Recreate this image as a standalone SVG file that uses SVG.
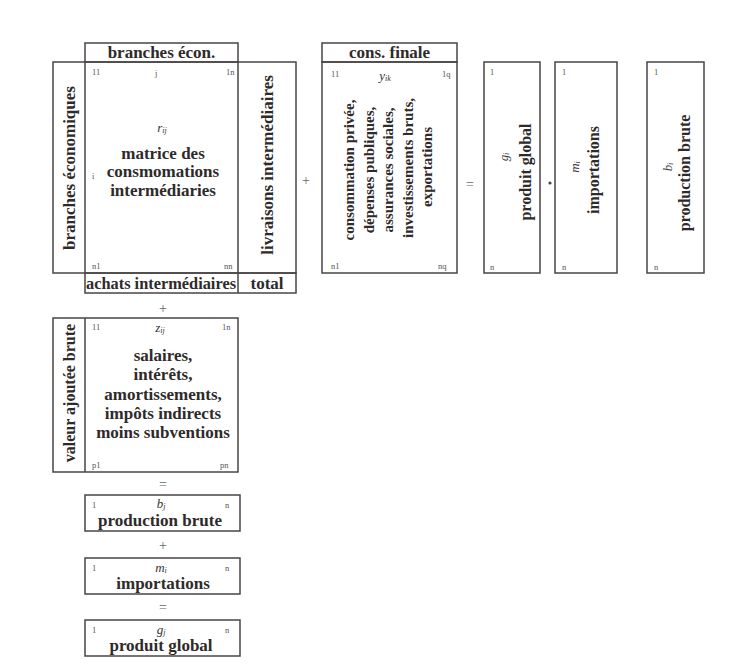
<svg xmlns="http://www.w3.org/2000/svg" width="729" height="669" viewBox="0 0 729 669">
<style>
.b{fill:none;stroke:#4a4444;stroke-width:1.5}
.t{font-family:"Liberation Serif","DejaVu Serif",serif;font-weight:bold;font-size:17px;fill:#2e2a2a;text-anchor:middle;dominant-baseline:central}
.r{font-size:16px}
.c{font-size:15px}
.s{font-family:"Liberation Serif","DejaVu Serif",serif;font-size:8.5px;fill:#555;dominant-baseline:central}
.v{font-family:"Liberation Serif","DejaVu Serif",serif;font-style:italic;font-size:13px;fill:#333;text-anchor:middle;dominant-baseline:central}
.op{font-family:"Liberation Serif","DejaVu Serif",serif;font-size:14px;fill:#666;text-anchor:middle;dominant-baseline:central}
</style>
<rect width="729" height="669" fill="#fff"/>

<g id="matrice-intermediaire">
<rect class="b" x="85" y="43" width="153" height="19"/>
<text class="t" x="161.5" y="52.5">branches écon.</text>
<rect class="b" x="53" y="62" width="243" height="211"/>
<line class="b" x1="85" y1="62" x2="85" y2="273"/>
<line class="b" x1="238" y1="62" x2="238" y2="293"/>
<rect class="b" x="85" y="273" width="211" height="20"/>
<text class="t" x="161" y="283" textLength="150" lengthAdjust="spacingAndGlyphs">achats intermédiaires</text>
<text class="t" x="267" y="283">total</text>
<text class="t" font-size="16.5" transform="translate(69,168) rotate(-90)">branches économiques</text>
<text class="t" font-size="15.5" transform="translate(267,165) rotate(-90)">livraisons intermédiaires</text>
<text class="s" x="92" y="72">11</text>
<text class="s" x="155" y="73">j</text>
<text class="s" x="226" y="72">1n</text>
<text class="s" x="92" y="176">i</text>
<text class="s" x="92" y="266">n1</text>
<text class="s" x="224" y="266">nn</text>
<text class="v" x="162" y="127">r<tspan font-size="8" dy="3">ij</tspan></text>
<text class="t" x="163" y="153">matrice des</text>
<text class="t" x="163" y="171">consmomations</text>
<text class="t" x="163" y="190">intermédiaries</text>
</g>

<g id="consommation-finale">
<rect class="b" x="322" y="43" width="135" height="19"/>
<text class="t" x="389.5" y="52.5">cons. finale</text>
<rect class="b" x="322" y="62" width="135" height="211"/>
<text class="s" x="331" y="74">11</text>
<text class="v" x="385" y="75">y<tspan font-size="8" dy="3">ik</tspan></text>
<text class="s" x="442" y="74">1q</text>
<text class="s" x="331" y="266">n1</text>
<text class="s" x="438" y="266">nq</text>
<g class="t c">
<text transform="translate(349,170) rotate(-90)">consommation privée,</text>
<text transform="translate(369,170) rotate(-90)">dépenses publiques,</text>
<text transform="translate(388,170) rotate(-90)">assurances sociales,</text>
<text transform="translate(408,168) rotate(-90)">investissements bruts,</text>
<text transform="translate(427,167) rotate(-90)">exportations</text>
</g>
</g>

<g id="produit-global-col">
<rect class="b" x="484" y="62" width="56" height="211"/>
<text class="s" x="490" y="72">1</text>
<text class="s" x="490" y="267">n</text>
<text class="v" transform="translate(503,157) rotate(-90)">g<tspan font-size="8" dy="3">i</tspan></text>
<text class="t r" transform="translate(525,172) rotate(-90)">produit global</text>
</g>

<g id="importations-col">
<rect class="b" x="555" y="62" width="62" height="211"/>
<text class="s" x="562" y="72">1</text>
<text class="s" x="562" y="267">n</text>
<text class="v" transform="translate(574,167) rotate(-90)">m<tspan font-size="8" dy="3">i</tspan></text>
<text class="t r" transform="translate(593,170) rotate(-90)">importations</text>
</g>

<g id="production-brute-col">
<rect class="b" x="647" y="62" width="57" height="211"/>
<text class="s" x="654" y="72">1</text>
<text class="s" x="654" y="267">n</text>
<text class="v" transform="translate(667,167) rotate(-90)">b<tspan font-size="8" dy="3">i</tspan></text>
<text class="t r" transform="translate(684,173) rotate(-90)">production brute</text>
</g>

<g id="valeur-ajoutee">
<rect class="b" x="53" y="318" width="185" height="154"/>
<line class="b" x1="85" y1="318" x2="85" y2="472"/>
<text class="t r" transform="translate(69,393) rotate(-90)">valeur ajoutée brute</text>
<text class="s" x="92" y="327">11</text>
<text class="v" x="160" y="327">z<tspan font-size="8" dy="3">ij</tspan></text>
<text class="s" x="222" y="327">1n</text>
<text class="s" x="92" y="465">p1</text>
<text class="s" x="220" y="465">pn</text>
<text class="t" x="163" y="355">salaires,</text>
<text class="t" x="163" y="374">intérêts,</text>
<text class="t" x="163" y="394">amortissements,</text>
<text class="t" x="163" y="413">impôts indirects</text>
<text class="t" x="163" y="432">moins subventions</text>
</g>

<g id="production-brute-row">
<rect class="b" x="85" y="495" width="155" height="36"/>
<text class="s" x="92" y="505">1</text>
<text class="s" x="225" y="505">n</text>
<text class="v" x="161" y="503">b<tspan font-size="8" dy="3">j</tspan></text>
<text class="t" font-size="16.5" x="160" y="520">production brute</text>
</g>

<g id="importations-row">
<rect class="b" x="85" y="558" width="155" height="36"/>
<text class="s" x="92" y="568">1</text>
<text class="s" x="225" y="568">n</text>
<text class="v" x="161" y="567">m<tspan font-size="8" dy="3">i</tspan></text>
<text class="t" x="163" y="583">importations</text>
</g>

<g id="produit-global-row">
<rect class="b" x="85" y="620" width="155" height="36"/>
<text class="s" x="92" y="630">1</text>
<text class="s" x="225" y="630">n</text>
<text class="v" x="161" y="629">g<tspan font-size="8" dy="3">j</tspan></text>
<text class="t" font-size="16.5" x="161" y="645">produit global</text>
</g>

<g id="connectors">
<text class="op" x="306" y="180">+</text>
<text class="op" x="470" y="184">=</text>
<circle cx="550" cy="183" r="1.6" fill="#444"/>
<text class="op" x="163" y="308">+</text>
<text class="op" x="163" y="484">=</text>
<text class="op" x="163" y="545">+</text>
<text class="op" x="163" y="607">=</text>
</g>
</svg>
